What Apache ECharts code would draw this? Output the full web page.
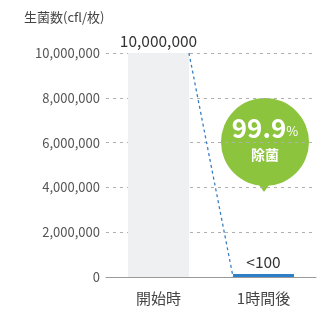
<!DOCTYPE html>
<html><head><meta charset="utf-8">
<script src="https://cdn.jsdelivr.net/npm/echarts@6/dist/echarts.min.js"></script>
<style>html,body{margin:0;padding:0;background:#fff}#c{width:332px;height:313px}</style>
</head><body><div id="c"></div>
<script>
const categories = ['開始時', '1時間後'];
const values = [10000000, 100];
const valueLabels = ['10,000,000', '<100'];
const yTicks = [0, 2000000, 4000000, 6000000, 8000000, 10000000];
const yTitle = '生菌数(cfl/枚)';
const badgeMain = '99.9';
const badgeUnit = '%';
const badgeSub = '除菌';

const FONT = '"Noto Sans CJK JP", "Noto Sans", sans-serif';
const BAR_RATIO = 0.58;
const chart = echarts.init(document.getElementById('c'));
chart.setOption({
  animation: false,
  textStyle: { fontFamily: FONT },
  grid: { left: 106, right: 16, top: 53, bottom: 36 },
  graphic: [
    { type: 'text', left: 24, top: 11, style: { text: yTitle, fill: '#444', font: '13px ' + FONT } },
    { type: 'polygon', shape: { points: [[254, 178], [274, 178], [264, 192]] }, style: { fill: '#8cc43e' } },
    { type: 'circle', shape: { cx: 265, cy: 142, r: 44 }, style: { fill: '#8cc43e' } },
    { type: 'text', x: 265, y: 128, style: {
        text: '{a|' + badgeMain + '}{b|' + badgeUnit + '}', align: 'center', verticalAlign: 'middle',
        rich: { a: { fontSize: 26, fontWeight: 'bold', fill: '#fff', fontFamily: FONT, verticalAlign: 'bottom' },
                b: { fontSize: 13, fill: '#fff', fontFamily: FONT, verticalAlign: 'bottom', padding: [0,0,3,0] } } } },
    { type: 'text', x: 265, y: 155, style: { text: badgeSub, fill: '#fff', font: 'bold 14px ' + FONT, align: 'center', verticalAlign: 'middle' } }
  ],
  xAxis: {
    type: 'category', data: categories,
    axisLine: { lineStyle: { color: '#999' } },
    axisTick: { inside: true, length: 5, lineStyle: { color: '#999' } },
    axisLabel: { color: '#444', fontSize: 15, margin: 14, fontFamily: FONT }
  },
  yAxis: {
    type: 'value', min: 0, max: yTicks[yTicks.length - 1], interval: yTicks[1] - yTicks[0],
    axisLine: { show: false }, axisTick: { show: false },
    axisLabel: { color: '#555', fontSize: 13, margin: 6, fontFamily: FONT,
      formatter: v => v.toLocaleString('en-US') },
    splitLine: { lineStyle: { color: '#b0b0b0', type: [3, 4], width: 1 } }
  },
  series: [
    {
      type: 'bar', data: values.map((v, i) => ({
        value: v,
        itemStyle: { color: i === 0 ? '#eef0f2' : '#2d7fc7' }
      })),
      barWidth: (BAR_RATIO * 100) + '%', barMinHeight: 3,
      label: { show: true, position: 'top', distance: 4, color: '#333', fontSize: 15.5, fontFamily: FONT,
        formatter: p => valueLabels[p.dataIndex] }
    },
    {
      type: 'custom', silent: true, z: 5,
      data: [[0, values[0], 1, 0]],
      renderItem: (params, api) => {
        const p0 = api.coord([api.value(0), api.value(1)]);
        const p1 = api.coord([api.value(2), api.value(3)]);
        const w = api.size([1, 0])[0] * BAR_RATIO;
        return { type: 'line',
          shape: { x1: p0[0] + w / 2, y1: p0[1], x2: p1[0] - w / 2, y2: p1[1] },
          style: { stroke: '#3a7fc4', lineWidth: 1.3, lineDash: [3, 3] } };
      }
    }
  ]
});
</script></body></html>
